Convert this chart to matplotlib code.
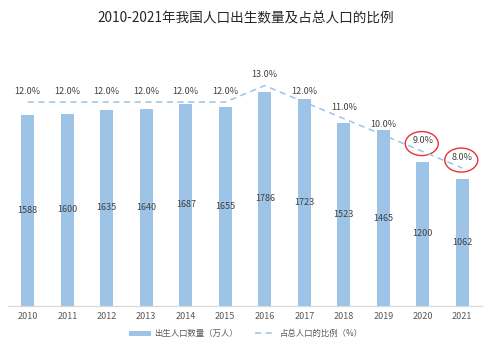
import matplotlib
matplotlib.use('Agg')
from matplotlib import pyplot as plt
from matplotlib.patches import Ellipse
from matplotlib.transforms import ScaledTranslation
import numpy as np

plt.rcParams['font.family'] = ['Noto Sans CJK SC', 'DejaVu Sans']

TITLE = '2010-2021年我国人口出生数量及占总人口的比例'
years = ['2010', '2011', '2012', '2013', '2014', '2015', '2016', '2017', '2018', '2019', '2020', '2021']
births = [1588, 1600, 1635, 1640, 1687, 1655, 1786, 1723, 1523, 1465, 1200, 1062]
ratio = [12.0, 12.0, 12.0, 12.0, 12.0, 12.0, 13.0, 12.0, 11.0, 10.0, 9.0, 8.0]
circled = ['2020', '2021']

BAR_COLOR = '#9DC3E6'
LINE_COLOR = '#9DC3E6'
TEXT_COLOR = '#404040'

fig = plt.figure(figsize=(5.0, 3.44), dpi=100)
ax = fig.add_axes([8 / 500, 38 / 344, 474 / 500, 246 / 344])
ax2 = ax.twinx()

x = np.arange(len(years))
ax.bar(x, births, width=0.33, color=BAR_COLOR, label='出生人口数量（万人）', zorder=2)
for xi, v in zip(x, births):
    ax.text(xi, v / 2, str(v), ha='center', va='center', fontsize=6.5, color=TEXT_COLOR, zorder=3)

ax2.plot(x, ratio, color=LINE_COLOR, linestyle=(0, (4, 3)), linewidth=1.1, label='占总人口的比例（%）')
for xi, p in zip(x, ratio):
    ax2.annotate('%.1f%%' % p, (xi, p), xytext=(0, 4.5), textcoords='offset points',
                 ha='center', va='bottom', fontsize=6.5, color=TEXT_COLOR)

# red hand-drawn circles around the last two labels
for yr in circled:
    i = years.index(yr)
    trans = fig.dpi_scale_trans + ScaledTranslation(x[i], ratio[i], ax2.transData)
    ax2.add_patch(Ellipse((-0.01, 0.08), 0.33, 0.24, transform=trans, fill=False,
                          edgecolor='#E5323B', linewidth=1.0, clip_on=False))

ax.set_xlim(-0.5, len(years) - 0.5)
ax.set_ylim(0, 2050)
ax2.set_ylim(-0.36, 14.55)

ax.set_xticks(x)
ax.set_xticklabels(years, fontsize=6.5, color='#595959')
ax.tick_params(axis='x', length=0, pad=4)
ax.set_yticks([])
ax2.set_yticks([])
for a in (ax, ax2):
    for s in ('top', 'left', 'right'):
        a.spines[s].set_visible(False)
    a.spines['bottom'].set_color('#D9D9D9')

fig.text(0.492, 0.945, TITLE, ha='center', va='center', fontsize=9.8, color='#262626')

h1, l1 = ax.get_legend_handles_labels()
h2, l2 = ax2.get_legend_handles_labels()
fig.legend(h1 + h2, l1 + l2, loc='lower center', bbox_to_anchor=(0.492, -0.005), ncol=2,
           frameon=False, fontsize=6, labelcolor='#595959', handlelength=2.6,
           handleheight=0.6, handletextpad=0.4, columnspacing=2.0)

fig.savefig('out.png', dpi=100)
